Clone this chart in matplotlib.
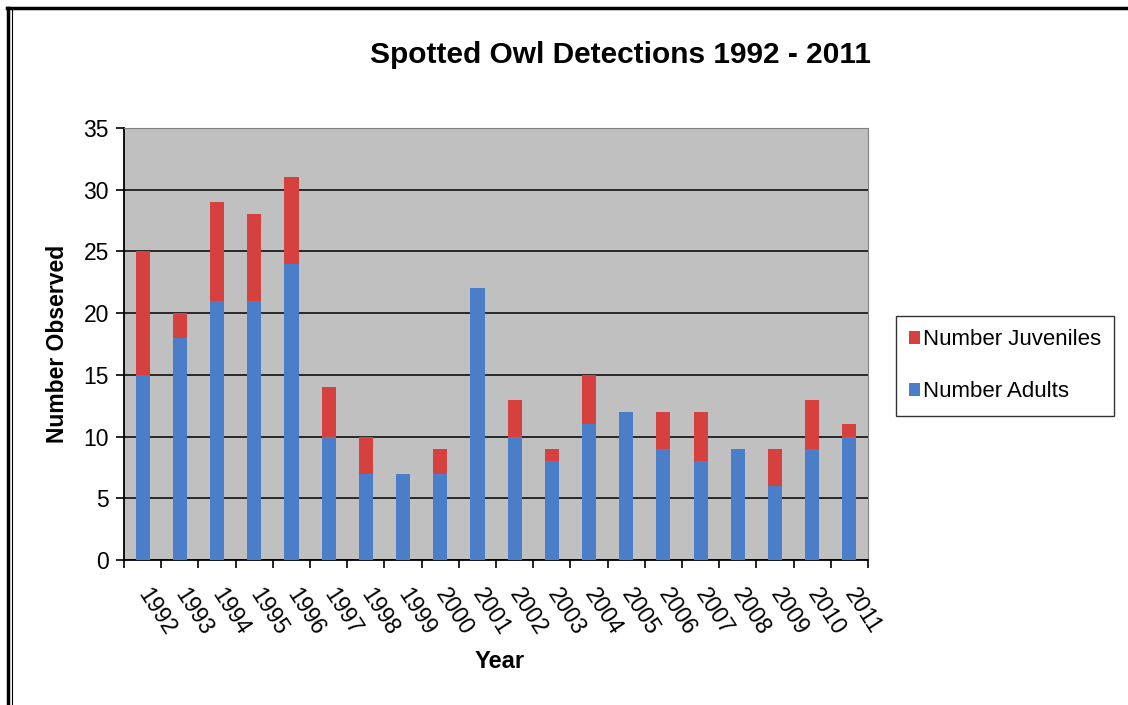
import matplotlib.pyplot as plt
from matplotlib.lines import Line2D
from matplotlib.patches import Patch
import numpy as np

plt.rcParams['font.family'] = ['Liberation Sans', 'DejaVu Sans']

years = ['1992', '1993', '1994', '1995', '1996', '1997', '1998', '1999', '2000', '2001',
         '2002', '2003', '2004', '2005', '2006', '2007', '2008', '2009', '2010', '2011']
adults = [15, 18, 21, 21, 24, 10, 7, 7, 7, 22, 10, 8, 11, 12, 9, 8, 9, 6, 9, 10]
juveniles = [10, 2, 8, 7, 7, 4, 3, 0, 2, 0, 3, 1, 4, 0, 3, 4, 0, 3, 4, 1]

blue = '#4a7ec8'
red = '#d6403e'

fig = plt.figure(figsize=(11.28, 7.05), dpi=100)
ax = fig.add_axes([0.110, 0.2057, 0.6595, 0.6127])
ax.set_facecolor('#c0c0c0')

x = np.arange(len(years))
ax.bar(x, adults, width=0.38, color=blue, zorder=3)
ax.bar(x, juveniles, width=0.38, bottom=adults, color=red, zorder=3)

ax.set_xlim(-0.5, len(years) - 0.5)
ax.set_ylim(0, 35)
ax.set_yticks(range(0, 36, 5))
ax.yaxis.grid(True, color='black', linewidth=1.1, zorder=1)
ax.set_axisbelow(True)

# ticks on the category boundaries, labels under the bars
ax.set_xticks(np.arange(-0.5, len(years), 1.0))
ax.set_xticklabels([])
ax.set_xticks(x, minor=True)
ax.set_xticklabels(years, minor=True, rotation=-57, ha='left', va='center',
                   rotation_mode='anchor', fontsize=16.5)
ax.tick_params(axis='x', which='minor', length=0, pad=22)
ax.tick_params(axis='x', which='major', length=6, width=1.2, direction='out')
ax.tick_params(axis='y', length=6, width=1.2, direction='out', labelsize=16.5, pad=5)

for side in ['left', 'bottom']:
    ax.spines[side].set_linewidth(1.3)
for side in ['top', 'right']:
    ax.spines[side].set_color('#808080')

ax.set_xlabel('Year', fontsize=17, fontweight='bold')
ax.xaxis.set_label_coords(0.505, -0.236)
ax.xaxis.label.set_va('center')
ax.set_ylabel('Number Observed', fontsize=16.5, fontweight='bold')
ax.yaxis.set_label_coords(-0.09, 0.50)
ax.yaxis.label.set_va('center')

fig.text(0.55, 0.922, 'Spotted Owl Detections 1992 - 2011', ha='center', va='center',
         fontsize=21.5, fontweight='bold')

handles = [Patch(facecolor=red, label='Number Juveniles'),
           Patch(facecolor=blue, label='Number Adults')]
leg = fig.legend(handles=handles, loc='center left', bbox_to_anchor=(0.794, 0.481),
                 fontsize=16, frameon=True, fancybox=False, handlelength=0.5,
                 handleheight=0.5, handletextpad=0.12, labelspacing=1.4,
                 borderpad=0.6, borderaxespad=0)
leg.get_frame().set_edgecolor('black')
leg.get_frame().set_linewidth(1.0)

# outer frame of the picture
fig.add_artist(Line2D([0.006, 1.0], [0.989, 0.989], color='black', linewidth=2.5))
fig.add_artist(Line2D([0.0075, 0.0075], [0.0, 0.989], color='black', linewidth=2.5))
fig.add_artist(Line2D([0.011, 0.011], [0.0, 0.986], color='black', linewidth=0.8))

fig.savefig('out.png', dpi=100)
